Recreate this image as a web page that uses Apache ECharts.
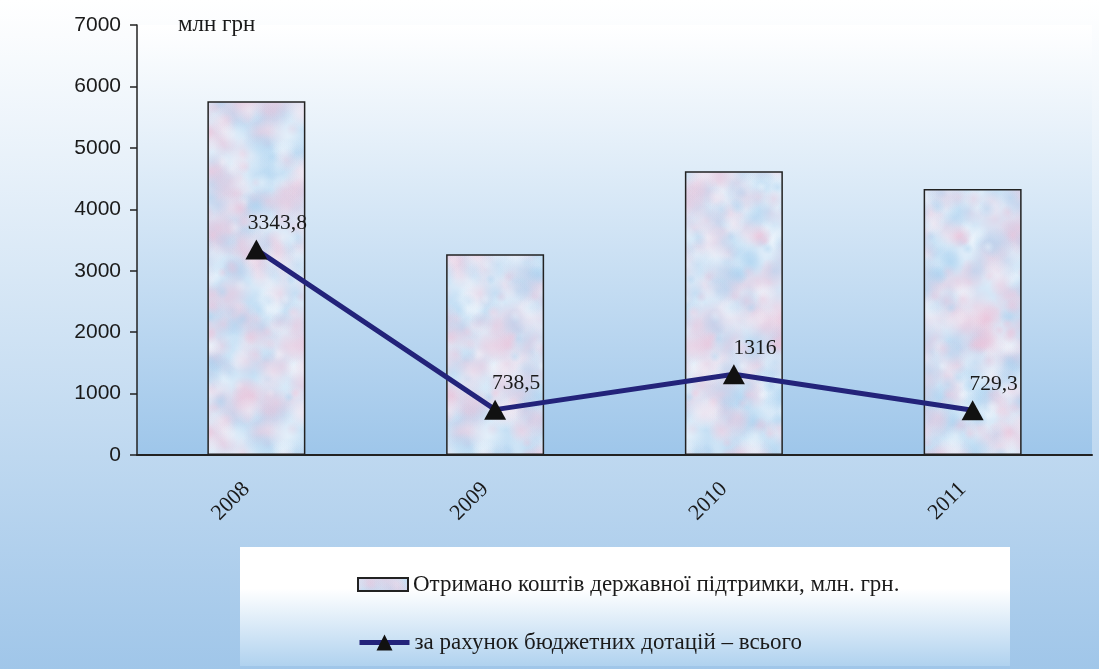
<!DOCTYPE html>
<html><head><meta charset="utf-8">
<script src="https://cdn.jsdelivr.net/npm/echarts@6/dist/echarts.min.js"></script>
<style>html,body{margin:0;padding:0;background:#fff;}#c{width:1099px;height:669px;}</style>
</head><body><div id="c"></div>
<script>
// ---- data ----
const categories = ['2008', '2009', '2010', '2011'];
const receivedSupport = [5760, 3270, 4620, 4330];
const budgetSubsidies = [3343.8, 738.5, 1316, 729.3];
const subsidyLabels = ['3343,8', '738,5', '1316', '729,3'];
const seriesNames = ['Отримано коштів державної підтримки, млн. грн.', 'за рахунок бюджетних дотацій – всього'];
const unitText = 'млн грн';

// ---- bar texture (decorative) ----
function makeTexture() {
  const cv = document.createElement('canvas');
  const W = 200, H = 300;
  cv.width = W; cv.height = H;
  const g = cv.getContext('2d');
  g.fillStyle = '#d5e7f7';
  g.fillRect(0, 0, W, H);
  let s = 98765;
  const rnd = () => { s = (s * 1103515245 + 12345) & 0x7fffffff; return s / 0x7fffffff; };
  for (let i = 0; i < 700; i++) {
    const x = rnd() * W, y = rnd() * H, r = 5 + rnd() * 16;
    const t = rnd();
    const col = t < 0.38 ? 'rgba(236,196,218,' : (t < 0.72 ? 'rgba(170,210,240,' : 'rgba(246,249,253,');
    for (const dx of [-W, 0, W]) for (const dy of [-H, 0, H]) {
      const cx = x + dx, cy = y + dy;
      if (cx + r < 0 || cx - r > W || cy + r < 0 || cy - r > H) continue;
      const gr = g.createRadialGradient(cx, cy, 0, cx, cy, r);
      gr.addColorStop(0, col + '0.42)');
      gr.addColorStop(1, col + '0)');
      g.fillStyle = gr;
      g.beginPath(); g.arc(cx, cy, r, 0, Math.PI * 2); g.fill();
    }
  }
  return cv;
}
const texture = makeTexture();
const serif = 'Liberation Serif';

const chart = echarts.init(document.getElementById('c'));
chart.setOption({
  animation: false,
  backgroundColor: new echarts.graphic.LinearGradient(0, 0, 0, 1, [
    { offset: 0, color: '#ffffff' }, { offset: 1, color: '#a0c6e9' }
  ]),
  grid: {
    left: 137, right: 7, top: 25, bottom: 214, show: true, borderWidth: 0,
    backgroundColor: new echarts.graphic.LinearGradient(0, 0, 0, 1, [
      { offset: 0, color: '#ffffff' }, { offset: 1, color: '#9ec6ea' }
    ])
  },
  graphic: [
    {
      type: 'rect', z: -1, shape: { x: 240, y: 547, width: 770, height: 119 },
      style: {
        fill: new echarts.graphic.LinearGradient(0, 0, 0, 1, [
          { offset: 0, color: '#ffffff' }, { offset: 0.35, color: '#ffffff' }, { offset: 1, color: '#b0d2ef' }
        ])
      }
    },
    {
      type: 'text', x: 178, y: 25,
      style: { text: unitText, fontFamily: serif, fontSize: 23, fill: '#1a1a1a', verticalAlign: 'middle' }
    }
  ],
  legend: [
    {
      orient: 'vertical', left: 352, top: 568, itemWidth: 50, itemHeight: 13, icon: 'rect',
      textStyle: { fontFamily: serif, fontSize: 23, color: '#1a1a1a' },
      data: [seriesNames[0]]
    },
    {
      orient: 'vertical', left: 352, top: 626, itemWidth: 50, itemHeight: 20,
      lineStyle: { width: 5, color: '#23237a' },
      textStyle: { fontFamily: serif, fontSize: 23, color: '#1a1a1a' },
      data: [seriesNames[1]]
    }
  ],
  xAxis: {
    type: 'category', data: categories,
    axisLine: { lineStyle: { color: '#222', width: 2 } },
    axisTick: { show: false },
    axisLabel: { rotate: 45, margin: 21, padding: [0, 14, 0, 0], fontFamily: serif, fontSize: 22, color: '#1a1a1a' }
  },
  yAxis: {
    type: 'value', min: 0, max: 7000, interval: 1000,
    axisLine: { show: true, lineStyle: { color: '#222', width: 1.5 } },
    axisTick: { show: true, length: 7, lineStyle: { color: '#222', width: 1.5 } },
    splitLine: { show: false },
    axisLabel: { margin: 16, fontFamily: 'Liberation Sans', fontSize: 21, color: '#1a1a1a', formatter: v => String(v) }
  },
  series: [
    {
      name: seriesNames[0], type: 'bar', data: receivedSupport, barWidth: 98,
      itemStyle: { color: { image: texture, repeat: 'repeat' }, borderColor: '#222', borderWidth: 1.5 }
    },
    {
      name: seriesNames[1], type: 'line', data: budgetSubsidies,
      symbol: 'triangle', symbolSize: [22, 20],
      lineStyle: { color: '#23237a', width: 5 },
      itemStyle: { color: '#111' },
      label: {
        show: true, position: 'top', offset: [21, 0],
        fontFamily: serif, fontSize: 21.5, color: '#1a1a1a',
        formatter: p => subsidyLabels[p.dataIndex]
      }
    }
  ]
});
</script></body></html>
